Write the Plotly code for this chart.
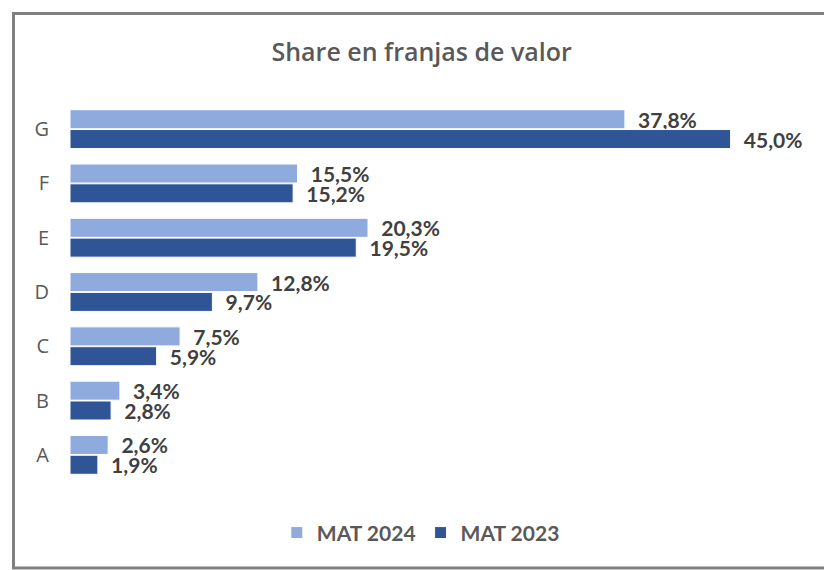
import plotly.graph_objects as go

categories = ["G", "F", "E", "D", "C", "B", "A"]
mat_2024 = [37.8, 15.5, 20.3, 12.8, 7.5, 3.4, 2.6]
mat_2023 = [45.0, 15.2, 19.5, 9.7, 5.9, 2.8, 1.9]
series_names = ["MAT 2024", "MAT 2023"]


def pct(v):
    return "  " + f"{v:.1f}".replace(".", ",") + "%"


fig = go.Figure()

for name, values, color in [
    (series_names[0], mat_2024, "#8FAADC"),
    (series_names[1], mat_2023, "#2F5597"),
]:
    fig.add_trace(go.Bar(
        y=categories,
        x=values,
        orientation="h",
        name=name,
        marker=dict(color=color, line=dict(color="white", width=1)),
        text=[pct(v) for v in values],
        textposition="outside",
        constraintext="none",
        cliponaxis=False,
        textfont=dict(family="Lato", size=21, color="#404040", weight="bold"),
    ))

# page body adds an 8px offset, so the figure is a bit smaller than the window
fig.update_layout(
    width=824,
    height=562,
    margin=dict(l=62, r=28, t=94, b=88),
    barmode="group",
    bargap=0.27,
    bargroupgap=0.04,
    plot_bgcolor="white",
    paper_bgcolor="white",
    title=dict(
        text="Share en franjas de valor",
        x=0.502,
        xanchor="center",
        y=0.922,
        yanchor="middle",
        font=dict(family="Open Sans", size=25, color="#595959", weight=600),
    ),
    xaxis=dict(range=[0, 50], visible=False),
    yaxis=dict(
        categoryorder="array",
        categoryarray=categories,
        autorange="reversed",
        showgrid=False,
        showline=False,
        ticks="",
        ticklabelstandoff=20,
        tickfont=dict(family="Open Sans", size=20, color="#595959"),
    ),
    legend=dict(
        orientation="h",
        x=0.478,
        xanchor="center",
        y=-0.134,
        yanchor="middle",
        font=dict(family="Lato", size=21, color="#595959", weight="bold"),
        itemwidth=30,
    ),
    shapes=[dict(
        type="rect",
        xref="paper",
        yref="paper",
        x0=-0.077,
        x1=1.0354,
        y0=-0.226,
        y1=1.233,
        line=dict(color="#808080", width=3),
    )],
)

fig.write_html("out.html")
